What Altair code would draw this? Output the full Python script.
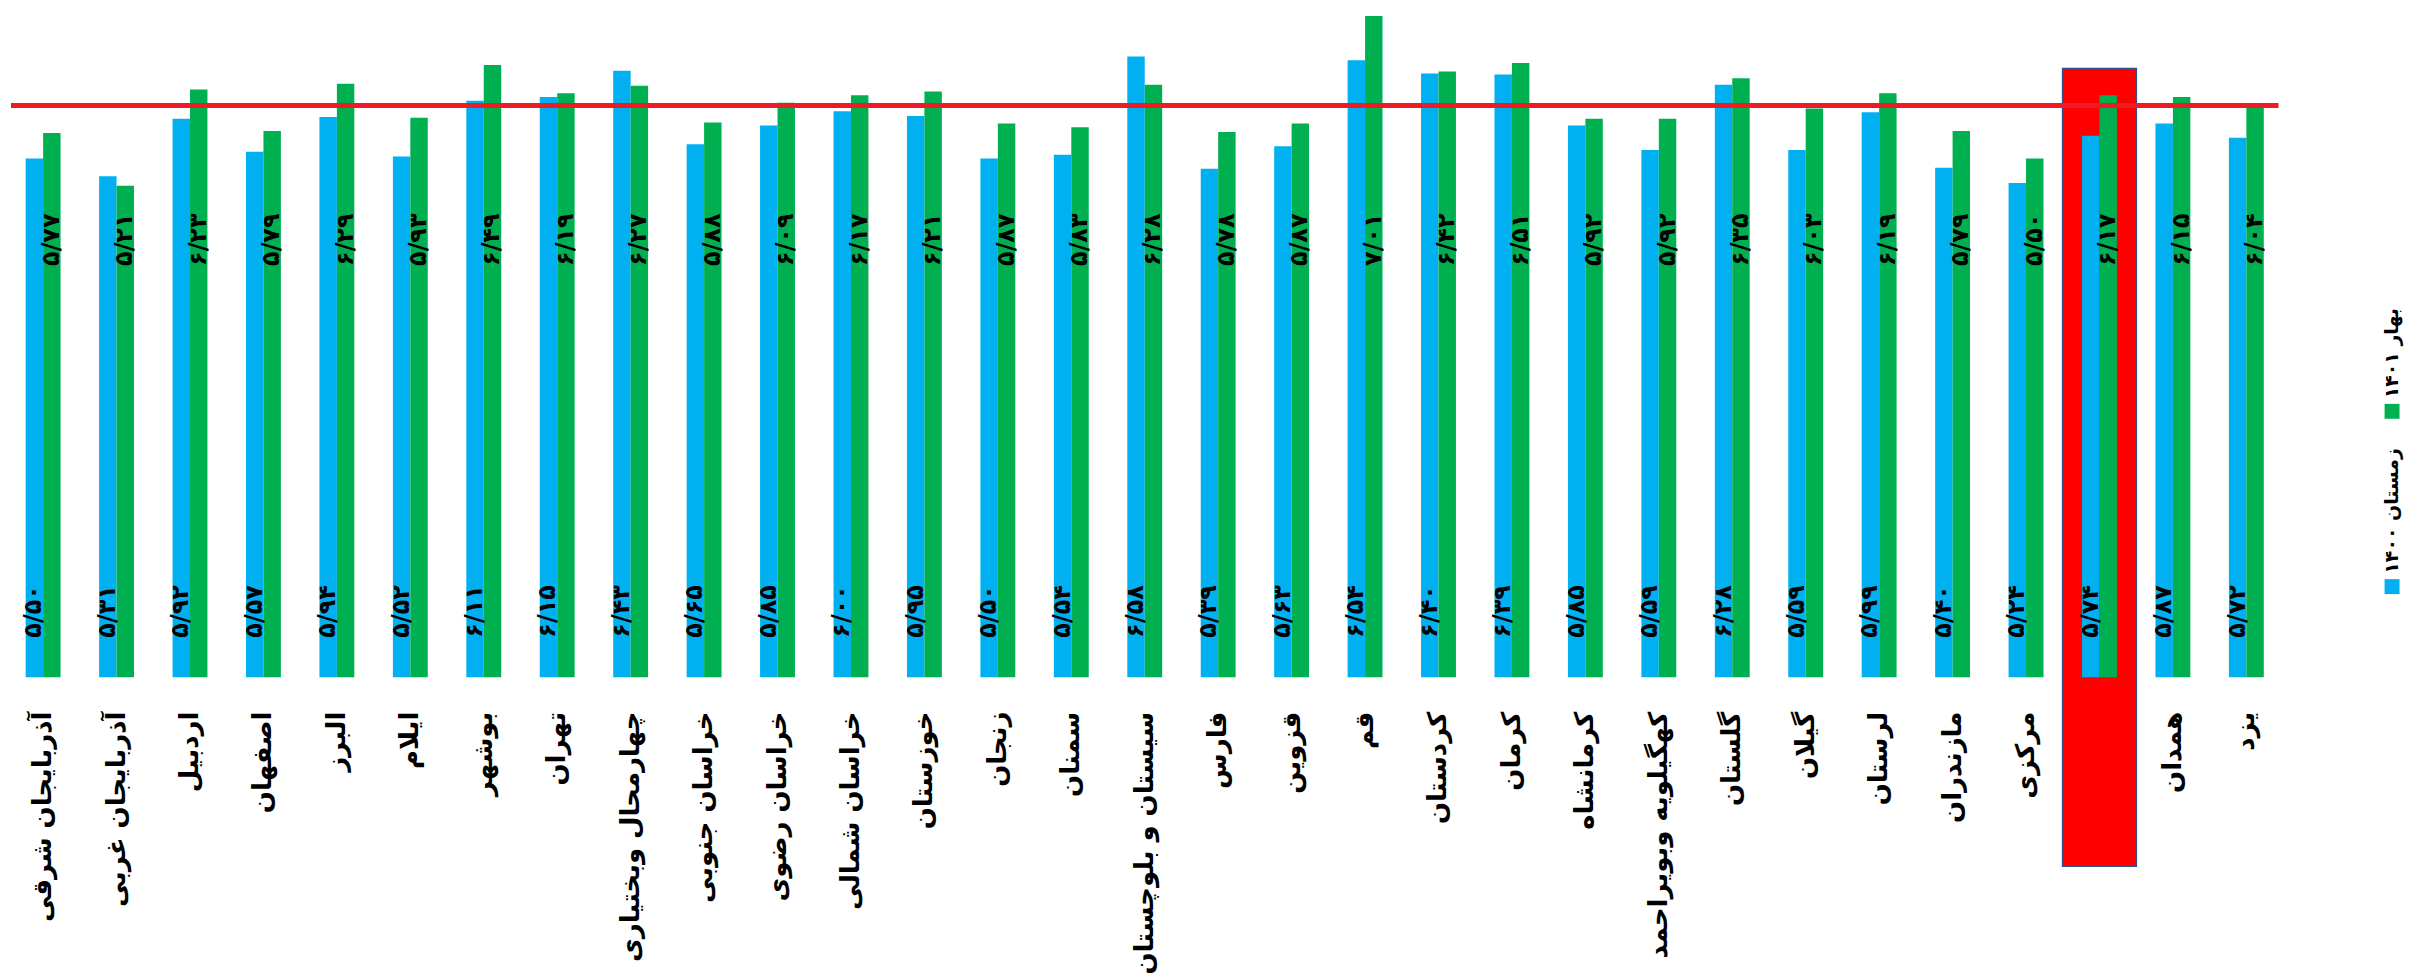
import altair as alt
import pandas as pd

# ---------------- data ----------------
provinces = [
    "آذربایجان شرقی", "آذربایجان غربی", "اردبیل", "اصفهان", "البرز", "ایلام",
    "بوشهر", "تهران", "چهارمحال وبختیاری", "خراسان جنوبی", "خراسان رضوی",
    "خراسان شمالی", "خوزستان", "زنجان", "سمنان", "سیستان و بلوچستان", "فارس",
    "قزوین", "قم", "کردستان", "کرمان", "کرمانشاه", "کهگیلویه وبویراحمد",
    "گلستان", "گیلان", "لرستان", "مازندران", "مرکزی", "هرمزگان", "همدان", "یزد",
]
winter_1400 = [5.50, 5.31, 5.92, 5.57, 5.94, 5.52, 6.11, 6.15, 6.43, 5.65, 5.85,
               6.00, 5.95, 5.50, 5.54, 6.58, 5.39, 5.63, 6.54, 6.40, 6.39, 5.85,
               5.59, 6.28, 5.59, 5.99, 5.40, 5.24, 5.74, 5.87, 5.72]
spring_1401 = [5.77, 5.21, 6.23, 5.79, 6.29, 5.93, 6.49, 6.19, 6.27, 5.88, 6.09,
               6.17, 6.21, 5.87, 5.83, 6.28, 5.78, 5.87, 7.01, 6.42, 6.51, 5.92,
               5.92, 6.35, 6.03, 6.19, 5.79, 5.50, 6.17, 6.15, 6.04]
series_names = ["زمستان ۱۴۰۰", "بهار ۱۴۰۱"]
series_colors = ["#00B0F0", "#00B050"]
reference_value = 6.06
highlight_province = "هرمزگان"

FA_DIGITS = str.maketrans("0123456789", "۰۱۲۳۴۵۶۷۸۹")


def fa_num(v):
    return f"{v:.2f}".replace(".", "/").translate(FA_DIGITS)


rows = []
for p, w, s in zip(provinces, winter_1400, spring_1401):
    rows.append({"province": p, "series": series_names[0], "value": w, "label": fa_num(w)})
    rows.append({"province": p, "series": series_names[1], "value": s, "label": fa_num(s)})
df = pd.DataFrame(rows)

FONT = "DejaVu Sans"
Y_MAX = 7.075
PLOT_W, PLOT_H = 2276, 670

x_enc = alt.X(
    "province:N", sort=provinces,
    scale=alt.Scale(paddingInner=0.525, paddingOuter=0.2),
    axis=alt.Axis(title=None, labelAngle=270, labelAlign="right", labelBaseline="middle",
                  labelPadding=34, labelFontSize=26, labelFontWeight="bold", labelFont=FONT,
                  labelColor="black", labelLimit=500, ticks=False, domain=False, grid=False),
)
x_off = alt.XOffset("series:N", sort=series_names,
                    scale=alt.Scale(paddingInner=0, paddingOuter=0))
y_scale = alt.Scale(domain=[0, Y_MAX], nice=False, zero=True)
color_enc = alt.Color("series:N", scale=alt.Scale(domain=series_names, range=series_colors),
                      legend=None)

base = alt.Chart(df)

highlight = alt.Chart(pd.DataFrame({"province": [highlight_province]})).mark_bar(
    color="#FF0000", stroke="#2F528F", strokeWidth=2, width=alt.RelativeBandSize(2.1)
).encode(
    x=alt.X("province:N", sort=provinces),
    y=alt.Y(datum=6.45, scale=y_scale, axis=None),
    y2=alt.Y2(datum=-2.0),
)

bars = base.mark_bar().encode(
    x=x_enc, xOffset=x_off,
    y=alt.Y("value:Q", scale=y_scale, axis=None),
    color=color_enc,
)

text_style = dict(angle=270, align="left", baseline="middle", font=FONT, fontSize=24,
                  fontWeight="bold", color="black")
winter_text = base.transform_filter(alt.datum.series == series_names[0]).mark_text(
    **text_style).encode(x=x_enc, xOffset=x_off, y=alt.Y(datum=0.42), text="label:N")
spring_text = base.transform_filter(alt.datum.series == series_names[1]).mark_text(
    **text_style).encode(x=x_enc, xOffset=x_off, y=alt.Y(datum=4.36), text="label:N")

rule = alt.Chart(pd.DataFrame({"v": [reference_value]})).mark_rule(
    color="#ED1C24", strokeWidth=5).encode(y=alt.Y("v:Q"))

main = alt.layer(highlight, bars, winter_text, spring_text, rule).properties(
    width=PLOT_W, height=PLOT_H)

legend_df = pd.DataFrame({"series": series_names})
leg_y = alt.Y("series:N", axis=None,
              scale=alt.Scale(type="point", domain=[series_names[1], series_names[0]],
                              range=[403, 579], padding=0))
leg_squares = alt.Chart(legend_df).mark_square(size=225, opacity=1).encode(
    y=leg_y, color=alt.Color("series:N", scale=alt.Scale(domain=series_names, range=series_colors),
                             legend=None))
leg_text = alt.Chart(legend_df).mark_text(angle=270, align="left", baseline="middle", dx=13,
                                          font=FONT, fontSize=19, fontWeight="bold",
                                          color="black").encode(y=leg_y, text="series:N")
legend = alt.layer(leg_squares, leg_text).properties(width=30, height=PLOT_H)

chart = alt.hconcat(main, legend, spacing=96, padding=0).configure(
    background="white", view=alt.ViewConfig(stroke=None))

chart.save("out.html", embed_options={"renderer": "svg", "actions": False})
